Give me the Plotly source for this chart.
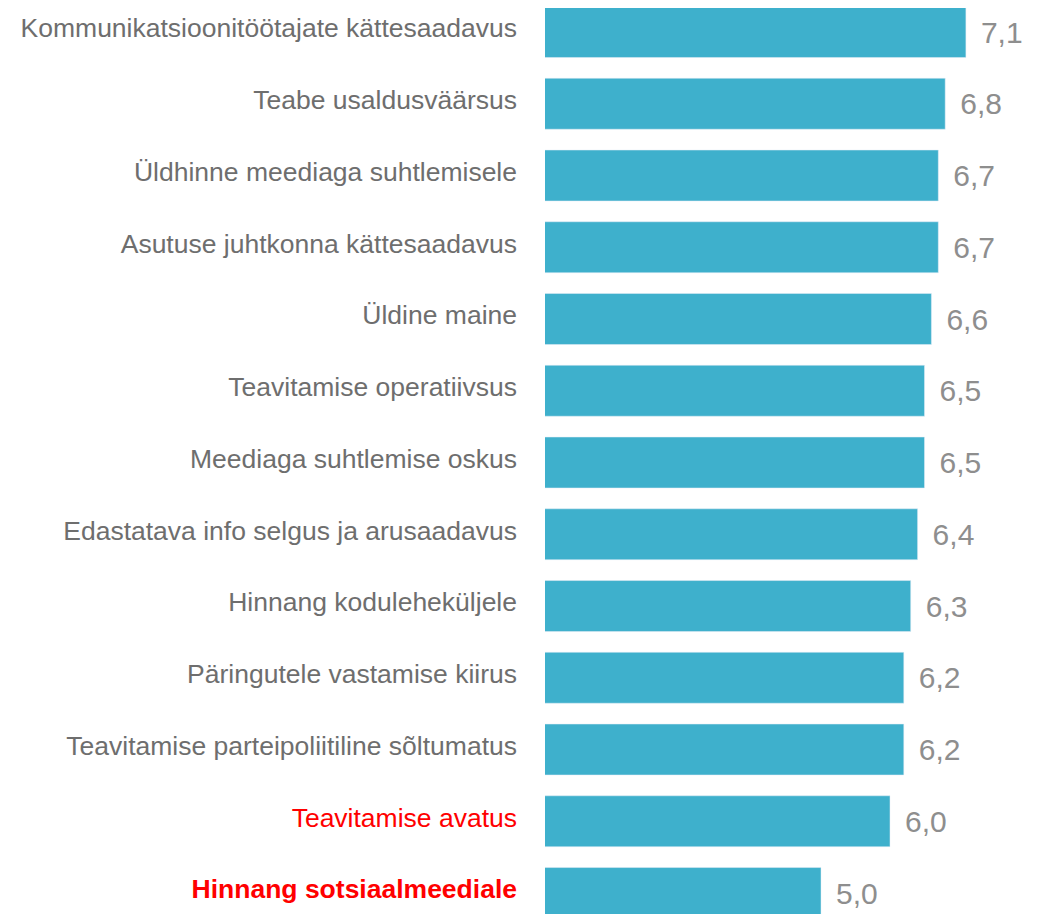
import plotly.graph_objects as go

categories = [
    "Kommunikatsioonitöötajate kättesaadavus",
    "Teabe usaldusväärsus",
    "Üldhinne meediaga suhtlemisele",
    "Asutuse juhtkonna kättesaadavus",
    "Üldine maine",
    "Teavitamise operatiivsus",
    "Meediaga suhtlemise oskus",
    "Edastatava info selgus ja arusaadavus",
    "Hinnang koduleheküljele",
    "Päringutele vastamise kiirus",
    "Teavitamise parteipoliitiline sõltumatus",
    "Teavitamise avatus",
    "Hinnang sotsiaalmeediale",
]
values = [7.1, 6.8, 6.7, 6.7, 6.6, 6.5, 6.5, 6.4, 6.3, 6.2, 6.2, 6.0, 5.0]

# highlighted rows
tick_text = []
for c in categories:
    if c == "Teavitamise avatus":
        tick_text.append(f"<span style='color:#FF0000'>{c}</span>")
    elif c == "Hinnang sotsiaalmeediale":
        tick_text.append(f"<span style='color:#FF0000'><b>{c}</b></span>")
    else:
        tick_text.append(c)

fig = go.Figure(go.Bar(
    x=values,
    y=categories,
    orientation="h",
    marker=dict(color="#3EB0CC"),
    width=0.71,
    text=["\u2009\u2009" + f"{v:.1f}".replace(".", ",") for v in values],
    textposition="outside",
    textfont=dict(family="Liberation Sans, Arial", size=30, color="#8E8E8E"),
    cliponaxis=False,
))

# page body has an 8px margin, so shift everything up/left by 8px
fig.update_layout(
    width=1048,
    height=914,
    margin=dict(l=537, r=0, t=0, b=0),
    plot_bgcolor="white",
    paper_bgcolor="white",
    showlegend=False,
    font=dict(family="Liberation Sans, Arial", color="#6E6E6E"),
    xaxis=dict(range=[1, 1 + 511 / 69], visible=False, showgrid=False),
    yaxis=dict(
        type="category",
        range=[12.404, -0.3345],
        tickvals=categories,
        ticktext=tick_text,
        tickfont=dict(size=26.5, color="#6E6E6E"),
        ticks="",
        ticklabelstandoff=27,
        ticklabelshift=4,
        showgrid=False,
        showline=False,
        zeroline=False,
    ),
)

fig.write_html("out.html")
